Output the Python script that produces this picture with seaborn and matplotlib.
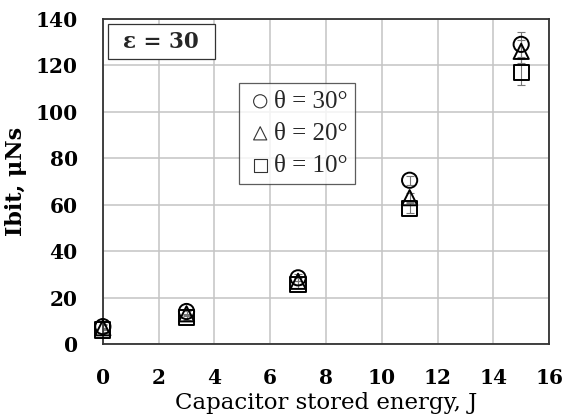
import pandas as pd
import seaborn as sns
import matplotlib.pyplot as plt
from matplotlib.patches import Rectangle

energie = [0, 3, 7, 11, 15]
ibit_30 = [7.5, 14, 28.5, 70.5, 129]
ibit_20 = [7, 13, 27, 63, 126]
ibit_10 = [6, 11.5, 25.5, 58.5, 117]
err_30 = [1, 1, 1.5, 2, 5.5]
err_20 = [1, 1, 1.5, 2, 5]
err_10 = [1, 1, 1.5, 2, 5.5]
labels = ["θ = 30°", "θ = 20°", "θ = 10°"]

sns.set_theme(style="whitegrid")
plt.rcParams['font.family'] = ['DejaVu Serif', 'Liberation Serif']

lignes = []
for lab, ys, es in zip(labels, [ibit_30, ibit_20, ibit_10], [err_30, err_20, err_10]):
    for x, y, e in zip(energie, ys, es):
        lignes.append({"E": x, "Ibit": y, "err": e, "serie": lab})
data_tab = pd.DataFrame(lignes)

fig = plt.figure(figsize=(5.62, 4.18), dpi=100)
ax = fig.add_axes([0.183, 0.177, 0.794, 0.778])

for lab in labels:
    d = data_tab[data_tab["serie"] == lab]
    ax.errorbar(d["E"], d["Ibit"], yerr=d["err"], fmt="none", ecolor="#777777",
                elinewidth=0.8, capsize=3, capthick=0.8, zorder=2)

sns.scatterplot(data=data_tab, x="E", y="Ibit", style="serie", markers=["o", "^", "s"],
                facecolor="none", edgecolor="black", linewidth=1.4, s=120,
                ax=ax, zorder=3, legend=False, clip_on=False)

# legende manuelle
for m, lab in zip(["o", "^", "s"], labels):
    ax.scatter([], [], marker=m, s=90, facecolor="none", edgecolor="#333333", linewidth=0.8, label=lab)
leg = ax.legend(loc="upper left", bbox_to_anchor=(0.305, 0.803), frameon=True, fancybox=False,
                edgecolor="#333333", prop={"family": "Liberation Serif", "size": 18},
                handletextpad=0.0, borderpad=0.3, labelspacing=0.38, handlelength=1.1,
                borderaxespad=0)
leg.get_frame().set_linewidth(0.9)

# boite epsilon
ax.add_patch(Rectangle((0.011, 0.875), 0.24, 0.11, transform=ax.transAxes, facecolor="white",
                       edgecolor="#333333", linewidth=0.9, zorder=4))
ax.text(0.131, 0.93, "ε = 30", transform=ax.transAxes, fontsize=15.5, fontweight="bold",
        va="center", ha="center", zorder=5)

ax.set_xlim(0, 16)
ax.set_ylim(0, 140)
ax.set_xticks(range(0, 17, 2))
ax.set_yticks(range(0, 141, 20))
ax.grid(True, color="#c4c4c4", linewidth=1.1)
for sp in ax.spines.values():
    sp.set_color("#333333")
    sp.set_linewidth(1.3)
ax.tick_params(axis="x", labelsize=14.5, pad=17, length=0, colors="black")
ax.tick_params(axis="y", labelsize=14.5, pad=18, length=0, colors="black")
for t in ax.get_xticklabels() + ax.get_yticklabels():
    t.set_fontweight("bold")
ax.set_xlabel("Capacitor stored energy, J", fontsize=16.5, labelpad=3, color="black")
ax.set_ylabel("Ibit, μNs", fontsize=16, fontweight="bold", labelpad=6, color="black")

plt.savefig("out.png", dpi=100)
